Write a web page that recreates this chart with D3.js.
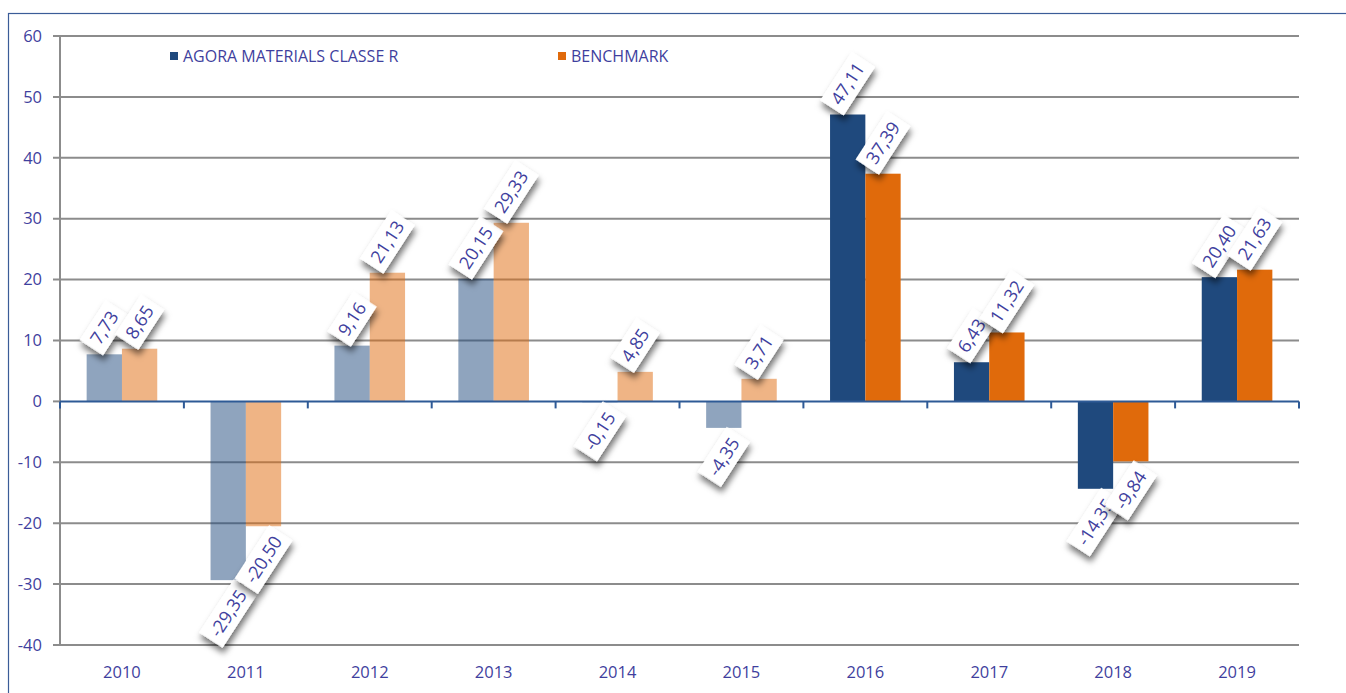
<!DOCTYPE html>
<html>
<head>
<meta charset="utf-8">
<script src="https://cdn.jsdelivr.net/npm/d3@7"></script>
<style>
  html, body { margin: 0; padding: 0; background: #fff; }
  svg { display: block; }
</style>
</head>
<body>
<svg id="chart" width="1346" height="693"></svg>
<script>
// ---- data ----
const years = ["2010","2011","2012","2013","2014","2015","2016","2017","2018","2019"];
const seriesNames = ["AGORA MATERIALS CLASSE R", "BENCHMARK"];
const fundValues = [7.73, -29.35, 9.16, 20.15, -0.15, -4.35, 47.11, 6.43, -14.35, 20.40];
const benchValues = [8.65, -20.50, 21.13, 29.33, 4.85, 3.71, 37.39, 11.32, -9.84, 21.63];
const yTicks = [-40, -30, -20, -10, 0, 10, 20, 30, 40, 50, 60];
const highlightFrom = "2016";

// ---- style ----
const colors = ["#1F497D", "#E06A0B"];
const textColor = "#3F3F9E";
const gridColor = "#8C8C8C";
const axisBlue = "#2E5A96";
const font = "'Open Sans', sans-serif";

const svg = d3.select("#chart");
const margin = { left: 60, right: 1299, top: 36, bottom: 645 };

// shadow filter
const defs = svg.append("defs");
const f = defs.append("filter").attr("id", "shadow").attr("x", "-50%").attr("y", "-50%").attr("width", "200%").attr("height", "200%");
f.append("feDropShadow").attr("dx", -4).attr("dy", 4).attr("stdDeviation", 3).attr("flood-color", "#000").attr("flood-opacity", 0.55);

// chart border
svg.append("rect").attr("x", 8.5).attr("y", 13.5).attr("width", 1400).attr("height", 700)
  .attr("fill", "none").attr("stroke", "#3B5C98").attr("stroke-width", 1.2);

const y = d3.scaleLinear().domain([-40, 60]).range([margin.bottom, margin.top]);
const x0 = d3.scaleBand().domain(years).range([margin.left, margin.right]).paddingInner(0).paddingOuter(0);
const x1 = d3.scaleBand().domain([0, 1]).range([0, x0.bandwidth()]).paddingInner(0).paddingOuter(0.755);

const locale = d3.formatLocale({ decimal: ",", thousands: ".", grouping: [3], currency: ["", "€"], minus: "-" });
const fmt = locale.format(".2f");

// gridlines
svg.append("g").selectAll("line").data(yTicks.filter(d => d !== 0)).join("line")
  .attr("x1", margin.left - 7).attr("x2", margin.right)
  .attr("y1", d => y(d)).attr("y2", d => y(d))
  .attr("stroke", gridColor).attr("stroke-width", 2);

// y axis line
svg.append("line").attr("x1", margin.left).attr("x2", margin.left)
  .attr("y1", y(60)).attr("y2", y(-40)).attr("stroke", gridColor).attr("stroke-width", 2);
svg.append("line").attr("x1", margin.left - 7).attr("x2", margin.left)
  .attr("y1", y(0)).attr("y2", y(0)).attr("stroke", gridColor).attr("stroke-width", 2);

// y tick labels
svg.append("g").selectAll("text").data(yTicks).join("text")
  .attr("x", 42).attr("y", d => y(d)).attr("dy", "0.35em")
  .attr("text-anchor", "end")
  .attr("font-family", font).attr("font-size", 16.5)
  .attr("fill", textColor).text(d => d);

// x labels
svg.append("g").selectAll("text").data(years).join("text")
  .attr("x", d => x0(d) + x0.bandwidth() / 2).attr("y", 672).attr("dy", "0.35em")
  .attr("text-anchor", "middle")
  .attr("font-family", font).attr("font-size", 16.5)
  .attr("fill", textColor).text(d => d);

// bars
const rows = years.map((yr, i) => ({ year: yr, vals: [fundValues[i], benchValues[i]] }));
const faded = yr => yr < highlightFrom;
const gBars = svg.append("g");
rows.forEach(r => {
  r.vals.forEach((v, k) => {
    gBars.append("rect")
      .attr("x", x0(r.year) + x1(k))
      .attr("width", x1.bandwidth())
      .attr("y", y(Math.max(0, v)))
      .attr("height", Math.abs(y(v) - y(0)))
      .attr("fill", colors[k])
      .attr("fill-opacity", faded(r.year) ? 0.5 : 1);
  });
});

// zero axis
svg.append("line").attr("x1", margin.left).attr("x2", margin.right)
  .attr("y1", y(0)).attr("y2", y(0)).attr("stroke", axisBlue).attr("stroke-width", 2);
svg.append("g").selectAll("line").data(d3.range(years.length + 1)).join("line")
  .attr("x1", i => margin.left + i * x0.step()).attr("x2", i => margin.left + i * x0.step())
  .attr("y1", y(0)).attr("y2", y(0) + 7)
  .attr("stroke", axisBlue).attr("stroke-width", 2);

// data labels
const angle = 57;
const rad = angle * Math.PI / 180;
const gLab = svg.append("g");
rows.forEach(r => {
  r.vals.forEach((v, k) => {
    const cx = x0(r.year) + x1(k) + x1.bandwidth() / 2;
    const g = gLab.append("g");
    const rect = g.append("rect").attr("fill", "#fff").attr("filter", "url(#shadow)");
    const t = g.append("text").attr("text-anchor", "middle").attr("dy", "0.35em")
      .attr("font-family", font).attr("font-size", 18)
      .attr("fill", textColor).text(fmt(v));
    const w = t.node().getComputedTextLength() + 12;
    const h = 28;
    rect.attr("x", -w / 2).attr("y", -h / 2).attr("width", w).attr("height", h);
    const halfV = (w * Math.sin(rad) + h * Math.cos(rad)) / 2;
    const cy = v >= 0 ? y(v) - halfV + 1 : y(v) + halfV - 1;
    g.attr("transform", `translate(${cx},${cy}) rotate(${-angle})`);
  });
});

// legend
const legX = [170, 558];
seriesNames.forEach((name, k) => {
  svg.append("rect").attr("x", legX[k]).attr("y", 52).attr("width", 8).attr("height", 8).attr("fill", colors[k]);
  svg.append("text").attr("x", legX[k] + 13).attr("y", 56).attr("dy", "0.35em")
    .attr("font-family", font).attr("font-size", 16)
    .attr("fill", textColor).text(name);
});
</script>
</body>
</html>
